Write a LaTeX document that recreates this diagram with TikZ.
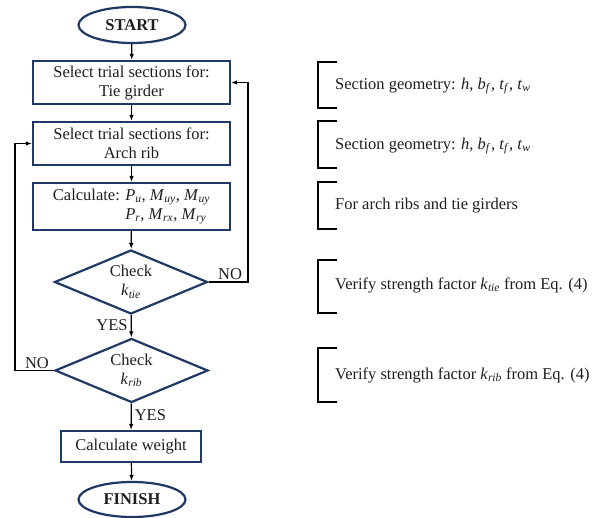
\documentclass[tikz,border=0pt]{standalone}
\usepackage{fontspec}
\setmainfont{Liberation Serif}
\usetikzlibrary{shapes.geometric,arrows.meta}
\definecolor{navy}{RGB}{32,56,100}
\definecolor{ink}{RGB}{30,30,30}
\newcommand{\iv}[2]{\textit{#1}\textsubscript{\textit{#2}}}
\begin{document}
\begin{tikzpicture}[x=1pt,y=-1pt,
  every node/.style={font=\fontsize{16.5}{19}\selectfont,text=ink},
  term/.style={ellipse,draw=navy,line width=2.2pt,minimum width=107pt,minimum height=36pt,inner sep=0pt,font=\fontsize{16.5}{19}\selectfont\bfseries},
  procbox/.style={rectangle,draw=navy,line width=2.2pt,minimum width=197pt,minimum height=43pt,inner sep=0pt,align=center},
  decis/.style={diamond,draw=navy,line width=2.2pt,aspect=2.4,minimum width=153pt,minimum height=64pt,inner sep=0pt,align=center},
  flow/.style={line width=1.2pt,-{Latex[length=6pt,width=4.5pt]}},
  brk/.style={line width=1.5pt},
  note/.style={anchor=west,inner sep=0pt}]
\useasboundingbox (0,0) rectangle (602,518);
% flowchart nodes
\node[term] (start) at (132,25) {START};
\node[procbox] (tie) at (131.5,82.5) {Select trial sections for:\\Tie girder};
\node[procbox] (rib) at (131.5,143.5) {Select trial sections for:\\Arch rib};
\node[procbox,minimum height=47pt,align=left] (calc) at (131.5,206.5) {Calculate: \iv{P}{u}, \iv{M}{uy}, \iv{M}{uy}\\\phantom{Calculate: }\iv{P}{r}, \iv{M}{rx}, \iv{M}{ry}};
\node[decis] (ctie) at (131,282) {Check\\\iv{k}{tie}};
\node[decis] (crib) at (131.5,370.5) {Check\\\iv{k}{rib}};
\node[procbox,minimum width=140pt,minimum height=31pt] (weight) at (131,446.5) {Calculate weight};
\node[term,minimum height=35pt] (finish) at (132,499.5) {FINISH};
% loop corners
\coordinate (rc1) at (248,282);
\coordinate (rc2) at (248,82.5);
\coordinate (lc1) at (15,370.5);
\coordinate (lc2) at (15,143.5);
% connectors
\draw[flow] (start) -- (tie);
\draw[flow] (tie) -- (rib);
\draw[flow] (rib) -- (calc);
\draw[flow] (calc) -- (ctie);
\draw[flow] (ctie) -- node[left,inner sep=3pt,pos=0.45] {YES} (crib);
\draw[flow] (crib) -- node[right,inner sep=3pt,pos=0.45] {YES} (weight);
\draw[flow] (weight) -- (finish);
\draw[flow] (ctie.east) -- (rc1) -- (rc2) -- (tie.east);
\node[anchor=south,inner sep=2pt] (no1) at (230,282) {NO};
\draw[flow] (crib.west) -- (lc1) -- (lc2) -- (rib.west);
\node[anchor=south,inner sep=2pt] (no2) at (37,370.5) {NO};
% right-hand notes
\draw[brk] (337,62) -- (318,62) -- (318,108) -- (337,108);
\node[note] (n1) at (335,86) {Section geometry: \textit{h}, \iv{b}{f}, \iv{t}{f}, \iv{t}{w}};
\draw[brk] (337,121) -- (318,121) -- (318,168) -- (337,168);
\node[note] (n2) at (335,146) {Section geometry: \textit{h}, \iv{b}{f}, \iv{t}{f}, \iv{t}{w}};
\draw[brk] (337,182) -- (318,182) -- (318,229) -- (337,229);
\node[note] (n3) at (335,206) {For arch ribs and tie girders};
\draw[brk] (337,260) -- (318,260) -- (318,313) -- (337,313);
\node[note] (n4) at (335,285) {Verify strength factor \iv{k}{tie} from Eq. (4)};
\draw[brk] (337,348) -- (318,348) -- (318,402) -- (337,402);
\node[note] (n5) at (335,375) {Verify strength factor \iv{k}{rib} from Eq. (4)};
\end{tikzpicture}
\end{document}
